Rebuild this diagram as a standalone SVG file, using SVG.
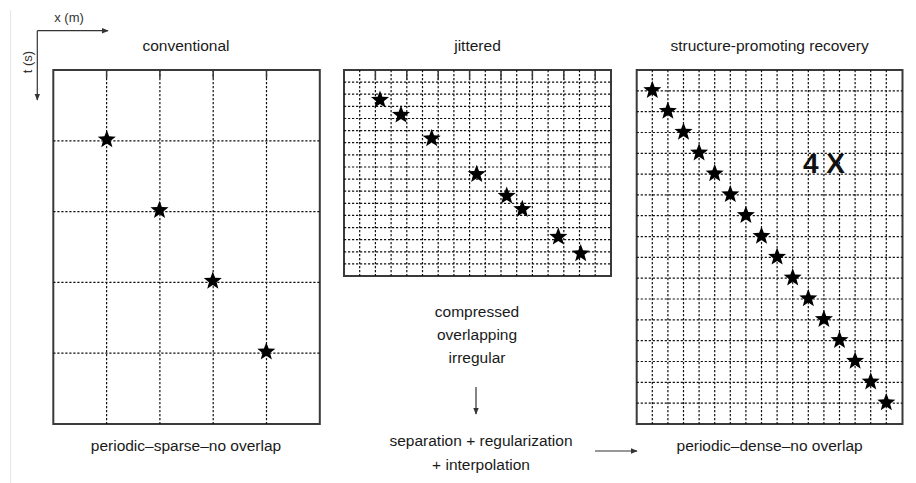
<svg xmlns="http://www.w3.org/2000/svg" xmlns:xlink="http://www.w3.org/1999/xlink" width="916" height="483" viewBox="0 0 916 483">
<style>
  .t { font-family: "Liberation Sans", Arial, sans-serif; font-size: 15.5px; fill: #1a1a1a; text-anchor: middle; }
  .ax { font-family: "Liberation Sans", Arial, sans-serif; font-size: 13px; fill: #333; text-anchor: middle; }
  .big { font-family: "Liberation Sans", Arial, sans-serif; font-size: 28px; font-weight: bold; fill: #111; }
  .box { fill: #fff; stroke: #3a3a3a; stroke-width: 2; }
  .grid { fill: none; stroke: #111; stroke-width: 1.2; stroke-dasharray: 2.2 1.8; }
  .tick { fill: none; stroke: #3a3a3a; stroke-width: 1.5; }
  .conn { fill: none; stroke: #333; stroke-width: 1.2; }
  .star { fill: #000; }
</style>
<defs>
  <path id="star" d="M0,-9.5 L2.35,-3.24 L9.04,-2.94 L3.8,1.24 L5.58,7.69 L0,4 L-5.58,7.69 L-3.8,1.24 L-9.04,-2.94 L-2.35,-3.24 Z"/>
  <marker id="ah" viewBox="0 0 10 10" refX="9" refY="5" markerWidth="7" markerHeight="7" markerUnits="userSpaceOnUse" orient="auto">
    <path d="M0,1 L10,5 L0,9 Z" fill="#333"/>
  </marker>
</defs>

<line x1="10.5" y1="10" x2="10.5" y2="483" stroke="#e6e6e6" stroke-width="1"/>

<g id="axes">
  <text class="ax" x="69" y="22">x (m)</text>
  <text class="ax" transform="translate(31.5,62) rotate(-90)" x="0" y="0">t (s)</text>
</g>

<g id="conventional">
  <text class="t" x="186" y="51">conventional</text>
  <rect class="box" x="53.3" y="70" width="266.5" height="354"/>
  <path class="grid" d="M106.6,70 V424 M159.9,70 V424 M213.2,70 V424 M266.5,70 V424 M53.3,140.8 H319.8 M53.3,211.6 H319.8 M53.3,282.4 H319.8 M53.3,353.2 H319.8"/>
  <path class="tick" d="M106.6,70 v8 M159.9,70 v8 M213.2,70 v8 M266.5,70 v8"/>
  <g class="star">
    <use href="#star" xlink:href="#star" x="106.8" y="139.6"/>
    <use href="#star" xlink:href="#star" x="159.5" y="210.2"/>
    <use href="#star" xlink:href="#star" x="212.8" y="281"/>
    <use href="#star" xlink:href="#star" x="266.3" y="351.8"/>
  </g>
  <text class="t" x="186" y="451">periodic–sparse–no overlap</text>
</g>

<g id="jittered">
  <text class="t" x="477.5" y="51">jittered</text>
  <rect class="box" x="344" y="70" width="267" height="206"/>
  <path class="grid" d="M359.7,70 V276 M375.4,70 V276 M391.1,70 V276 M406.8,70 V276 M422.5,70 V276 M438.2,70 V276 M453.9,70 V276 M469.6,70 V276 M485.3,70 V276 M501,70 V276 M516.7,70 V276 M532.4,70 V276 M548.1,70 V276 M563.8,70 V276 M579.5,70 V276 M595.2,70 V276 M344,82.1 H611 M344,94.2 H611 M344,106.4 H611 M344,118.5 H611 M344,130.6 H611 M344,142.7 H611 M344,154.8 H611 M344,167 H611 M344,179.1 H611 M344,191.2 H611 M344,203.3 H611 M344,215.4 H611 M344,227.6 H611 M344,239.7 H611 M344,251.8 H611 M344,263.9 H611"/>
  <path class="tick" d="M375.4,70 v10 M406.8,70 v10 M438.2,70 v10 M469.6,70 v10 M501,70 v10 M532.4,70 v10 M563.8,70 v10 M595.2,70 v10"/>
  <g class="star">
    <use href="#star" xlink:href="#star" x="380" y="99.9"/>
    <use href="#star" xlink:href="#star" x="401" y="114.9"/>
    <use href="#star" xlink:href="#star" x="431.7" y="138.6"/>
    <use href="#star" xlink:href="#star" x="476.7" y="174.2"/>
    <use href="#star" xlink:href="#star" x="506.7" y="195.9"/>
    <use href="#star" xlink:href="#star" x="522.3" y="209.2"/>
    <use href="#star" xlink:href="#star" x="558.3" y="236.9"/>
    <use href="#star" xlink:href="#star" x="580.7" y="253.6"/>
  </g>
  <text class="t" x="477" y="317">compressed</text>
  <text class="t" x="477" y="340">overlapping</text>
  <text class="t" x="477" y="363">irregular</text>
  <text class="t" x="481" y="446">separation + regularization</text>
  <text class="t" x="481" y="470">+ interpolation</text>
</g>

<g id="recovery">
  <text class="t" x="769.6" y="51">structure-promoting recovery</text>
  <rect class="box" x="636.7" y="70" width="265.8" height="354"/>
  <path class="grid" d="M652.3,70 V424 M667.9,70 V424 M683.5,70 V424 M699.1,70 V424 M714.7,70 V424 M730.3,70 V424 M745.9,70 V424 M761.5,70 V424 M777.1,70 V424 M792.7,70 V424 M808.3,70 V424 M823.9,70 V424 M839.5,70 V424 M855.1,70 V424 M870.7,70 V424 M886.3,70 V424 M636.7,90.8 H902.5 M636.7,111.6 H902.5 M636.7,132.5 H902.5 M636.7,153.3 H902.5 M636.7,174.1 H902.5 M636.7,194.9 H902.5 M636.7,215.7 H902.5 M636.7,236.6 H902.5 M636.7,257.4 H902.5 M636.7,278.2 H902.5 M636.7,299 H902.5 M636.7,319.8 H902.5 M636.7,340.7 H902.5 M636.7,361.5 H902.5 M636.7,382.3 H902.5 M636.7,403.1 H902.5"/>
  <g class="star">
    <use href="#star" xlink:href="#star" x="652.3" y="90.3"/>
    <use href="#star" xlink:href="#star" x="667.9" y="111.1"/>
    <use href="#star" xlink:href="#star" x="683.5" y="132"/>
    <use href="#star" xlink:href="#star" x="699.1" y="152.8"/>
    <use href="#star" xlink:href="#star" x="714.7" y="173.6"/>
    <use href="#star" xlink:href="#star" x="730.3" y="194.4"/>
    <use href="#star" xlink:href="#star" x="745.9" y="215.2"/>
    <use href="#star" xlink:href="#star" x="761.5" y="236.1"/>
    <use href="#star" xlink:href="#star" x="777.1" y="256.9"/>
    <use href="#star" xlink:href="#star" x="792.7" y="277.7"/>
    <use href="#star" xlink:href="#star" x="808.3" y="298.5"/>
    <use href="#star" xlink:href="#star" x="823.9" y="319.3"/>
    <use href="#star" xlink:href="#star" x="839.5" y="340.2"/>
    <use href="#star" xlink:href="#star" x="855.1" y="361"/>
    <use href="#star" xlink:href="#star" x="870.7" y="381.8"/>
    <use href="#star" xlink:href="#star" x="886.3" y="402.6"/>
  </g>
  <text class="big" x="803" y="173.3">4 X</text>
  <text class="t" x="769.6" y="451">periodic–dense–no overlap</text>
</g>

<g id="connectors">
  <line class="conn" x1="37.3" y1="30.7" x2="108" y2="30.7" marker-end="url(#ah)"/>
  <line class="conn" x1="37.3" y1="30.7" x2="37.3" y2="100" marker-end="url(#ah)"/>
  <line class="conn" x1="476" y1="387" x2="476" y2="414" marker-end="url(#ah)"/>
  <line class="conn" x1="595" y1="451" x2="637" y2="451" marker-end="url(#ah)"/>
</g>
</svg>
